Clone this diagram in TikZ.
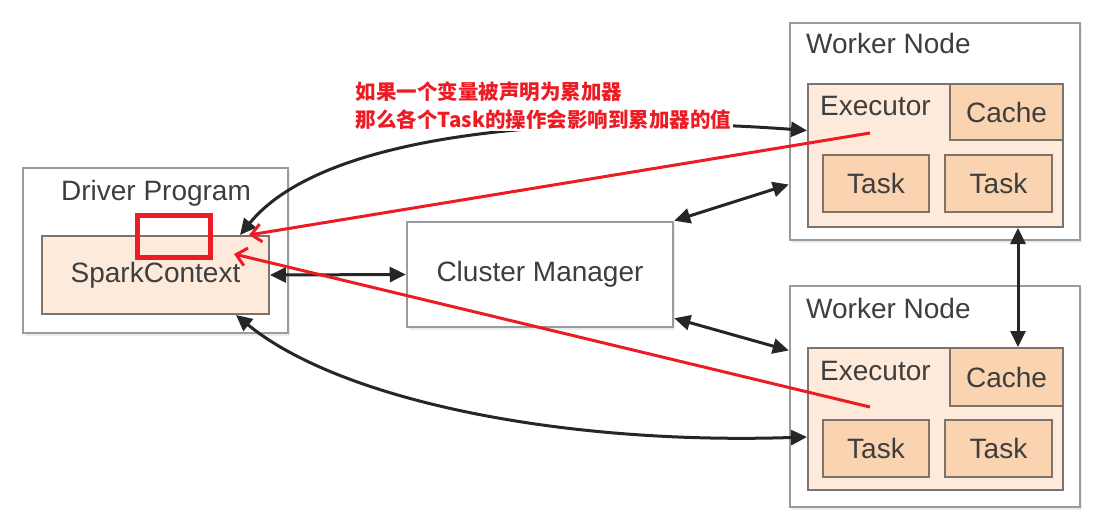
\documentclass[tikz,border=0pt]{standalone}
\usepackage{fontspec}
\setmainfont{Liberation Sans}
\newfontfamily\cjk{Noto Sans CJK SC}
\usetikzlibrary{arrows.meta, shadows}

\definecolor{boxline}{RGB}{155,155,155}
\definecolor{innerline}{RGB}{125,115,108}
\definecolor{execfill}{RGB}{253,234,219}
\definecolor{taskfill}{RGB}{250,211,176}
\definecolor{txtgray}{RGB}{62,62,62}
\definecolor{notered}{RGB}{237,28,36}

\tikzset{
	outerbox/.style = {draw = boxline, line width = 2.5pt, fill = white,
		drop shadow = {opacity = 0.15, shadow xshift = 2pt, shadow yshift = -3pt}},
	innerbox/.style = {draw = innerline, line width = 2pt, inner sep = 0pt,
		text = txtgray, font = \fontsize{28}{33}\selectfont},
	boxtext/.style = {text = txtgray, font = \fontsize{28}{33}\selectfont, inner sep = 0pt},
	link/.style = {line width = 3pt, black!85,
		{Triangle[length = 16pt, width = 15pt]}-{Triangle[length = 16pt, width = 15pt]}},
	note/.style = {line width = 3pt, notered, -{Straight Barb[length = 10pt, width = 18pt]}},
	notetext/.style = {anchor = base west, inner sep = 1.5pt, fill = white, text = notered,
		font = \cjk\bfseries\fontsize{20.5}{27}\selectfont},
}

\begin{document}
\begin{tikzpicture}[x = 1pt, y = -1pt]
	\useasboundingbox (0, 0) rectangle (1112, 528);
	
	% driver
	\node[outerbox, minimum width = 265pt, minimum height = 165pt] (drv) at (155.5, 250.5) {};
	\node[boxtext, anchor = base] (drvlbl) at (156, 200.5) {Driver Program};
	\node[innerbox, fill = execfill, minimum width = 227pt, minimum height = 78pt] (spark) at (155.5, 275) {SparkContext};
	
	% cluster manager
	\node[outerbox, boxtext, minimum width = 266pt, minimum height = 105pt] (cm) at (540, 274.5) {Cluster Manager};
	
	% worker 1
	\node[outerbox, minimum width = 290pt, minimum height = 217pt] (w1) at (935, 131.5) {};
	\node[boxtext, anchor = base west] (w1lbl) at (806, 53) {Worker Node};
	\node[innerbox, fill = execfill, minimum width = 255pt, minimum height = 143pt] (ex1) at (935.5, 155.5) {};
	\node[boxtext, anchor = base west] (ex1lbl) at (820, 115) {Executor};
	\node[innerbox, fill = taskfill, minimum width = 113pt, minimum height = 56pt] (cache1) at (1006.5, 112) {Cache};
	\node[innerbox, fill = taskfill, minimum width = 106pt, minimum height = 57pt] (task1a) at (876, 183.5) {Task};
	\node[innerbox, fill = taskfill, minimum width = 107pt, minimum height = 57pt] (task1b) at (998.5, 183.5) {Task};
	
	% worker 2
	\node[outerbox, minimum width = 290pt, minimum height = 221pt] (w2) at (935, 396.5) {};
	\node[boxtext, anchor = base west] (w2lbl) at (806, 318) {Worker Node};
	\node[innerbox, fill = execfill, minimum width = 255pt, minimum height = 142pt] (ex2) at (935.5, 419) {};
	\node[boxtext, anchor = base west] (ex2lbl) at (820, 380) {Executor};
	\node[innerbox, fill = taskfill, minimum width = 113pt, minimum height = 58pt] (cache2) at (1006.5, 377) {Cache};
	\node[innerbox, fill = taskfill, minimum width = 106pt, minimum height = 57pt] (task2a) at (876, 448.5) {Task};
	\node[innerbox, fill = taskfill, minimum width = 107pt, minimum height = 57pt] (task2b) at (998.5, 448.5) {Task};
	
	% black connectors
	\draw[link] (spark.east) -- (cm.west);
	\draw[link] (cm.north east) -- ([yshift = -53pt]w1.west);
	\draw[link] ([yshift = 10pt]cm.south east) -- ([yshift = 46pt]w2.west);
	\draw[link] ([xshift = 82.5pt]ex1.south) -- ([xshift = 11.5pt]cache2.north);
	\draw[link] ([xshift = -30pt]spark.north east) .. controls (330, 125) and (600, 115) .. ([yshift = 25pt]ex1.west);
	\draw[link] ([xshift = -34pt]spark.south east) .. controls (340, 400) and (560, 445) .. ([yshift = -18pt]ex2.west);
	
	% note in red
	\node[notetext] (note1) at (354, 99) {如果一个变量被声明为累加器};
	\node[notetext] (note2) at (354, 127) {那么各个Task的操作会影响到累加器的值};
	
	\node[draw = notered, line width = 5pt, minimum width = 73pt, minimum height = 42pt] (hilite) at (174, 236.5) {};
	
	\coordinate (acc1) at (870, 133);
	\coordinate (acc2) at (870, 407);
	\draw[note] (acc1) -- ([xshift = -21pt]spark.north east);
	\draw[note] (acc2) -- ([shift = {(-36pt, -19pt)}]spark.north east);
\end{tikzpicture}
\end{document}
